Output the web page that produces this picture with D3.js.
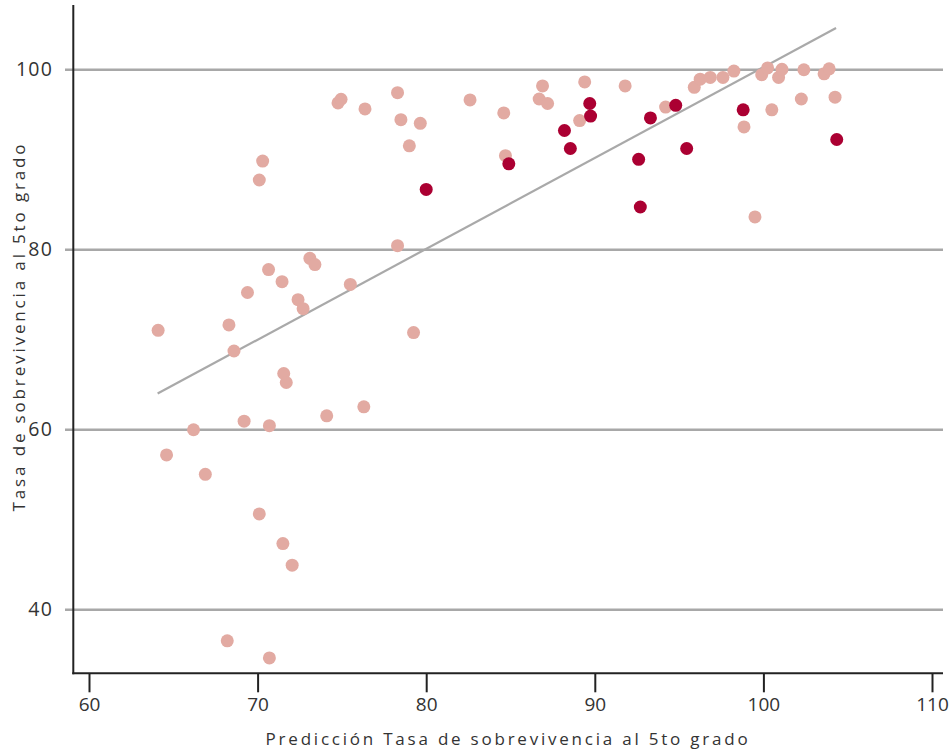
<!DOCTYPE html>
<html>
<head>
<meta charset="utf-8">
<script src="https://cdn.jsdelivr.net/npm/d3@7"></script>
<style>
  html, body { margin: 0; padding: 0; background: #fff; }
  svg { display: block; }
  text { font-family: "Open Sans", "Noto Sans", sans-serif; fill: #333; }
</style>
</head>
<body>
<svg id="chart" width="950" height="753"></svg>
<script>
// ---- data ----
const lightX = [79.0, 70.3, 70.1, 78.3, 73.1, 73.4, 70.65, 71.45, 75.5, 69.4, 72.4, 72.7, 64.1, 68.3, 68.6, 79.25, 71.55, 71.7, 76.3, 74.1, 69.2, 70.7, 66.2, 64.6, 66.9, 70.1, 71.5, 72.05, 68.2, 70.7, 78.3, 78.5, 79.65, 82.6, 84.6, 84.7, 86.9, 86.7, 87.2, 89.4, 91.8, 89.1, 94.2, 95.9, 96.25, 96.85, 97.6, 98.25, 98.85, 99.5, 99.9, 100.25, 100.9, 101.1, 100.5, 102.4, 102.25, 103.6, 103.9, 104.25, 74.77, 74.95, 76.37];
const lightY = [91.5, 89.8, 87.7, 80.4, 79.0, 78.3, 77.75, 76.4, 76.1, 75.2, 74.4, 73.4, 71.0, 71.6, 68.7, 70.75, 66.2, 65.2, 62.5, 61.5, 60.9, 60.4, 59.95, 57.15, 55.0, 50.6, 47.3, 44.9, 36.5, 34.6, 97.4, 94.4, 94.0, 96.6, 95.15, 90.4, 98.15, 96.7, 96.2, 98.6, 98.15, 94.3, 95.8, 98.0, 98.9, 99.1, 99.1, 99.8, 93.6, 83.6, 99.4, 100.15, 99.1, 100.0, 95.5, 99.95, 96.7, 99.5, 100.05, 96.9, 96.26, 96.67, 95.6];
const darkX = [80.0, 84.9, 89.7, 89.75, 88.2, 88.55, 92.6, 92.7, 93.3, 94.8, 95.45, 98.8, 104.35];
const darkY = [86.65, 89.5, 96.2, 94.8, 93.2, 91.2, 90.0, 84.7, 94.6, 96.0, 91.2, 95.5, 92.2];
// fitted line endpoints
const fitX = [64.07, 104.31];
const fitY = [63.97, 104.59];
const xTicks = [60, 70, 80, 90, 100, 110];
const yTicks = [40, 60, 80, 100];
const xTitle = "Predicción Tasa de sobrevivencia al 5to grado";
const yTitle = "Tasa de sobrevivencia al 5to grado";

// ---- chart ----
const svg = d3.select("#chart");
const x = d3.scaleLinear().domain([60, 110]).range([89, 932]);
const y = d3.scaleLinear().domain([40, 100]).range([609.3, 69.3]);
const axisLeftX = 73.3, axisBottomY = 673.3, gridLeft = 65, gridRight = 943;

// gridlines + y labels
const gy = svg.append("g").attr("transform", `translate(${gridLeft},0)`)
  .call(d3.axisLeft(y).tickValues(yTicks).tickSize(-(gridRight - gridLeft)).tickPadding(12).tickFormat(d3.format("d")));
gy.select(".domain").remove();
gy.selectAll(".tick line").attr("stroke", "#a8a8a8").attr("stroke-width", 2.4);
gy.selectAll(".tick text").attr("font-size", 19.5).attr("fill", "#333").style("letter-spacing", "1.2px");

// x axis
const gx = svg.append("g").attr("transform", `translate(0,${axisBottomY})`)
  .call(d3.axisBottom(x).tickValues(xTicks).tickSize(19).tickPadding(5).tickFormat(d3.format("d")));
gx.select(".domain").remove();
gx.selectAll(".tick line").attr("stroke", "#222").attr("stroke-width", 2);
gx.selectAll(".tick text").attr("font-size", 19).attr("fill", "#333");

// axis lines
svg.append("line").attr("x1", axisLeftX).attr("x2", axisLeftX).attr("y1", 5).attr("y2", axisBottomY + 1)
  .attr("stroke", "#222").attr("stroke-width", 2);
svg.append("line").attr("x1", axisLeftX - 1).attr("x2", gridRight).attr("y1", axisBottomY).attr("y2", axisBottomY)
  .attr("stroke", "#222").attr("stroke-width", 2);

// fitted line
svg.append("line")
  .attr("x1", x(fitX[0])).attr("y1", y(fitY[0]))
  .attr("x2", x(fitX[1])).attr("y2", y(fitY[1]))
  .attr("stroke", "#a9a9a9").attr("stroke-width", 2.2);

// points
const lightData = lightX.map((v, i) => ({ x: v, y: lightY[i] }));
const darkData = darkX.map((v, i) => ({ x: v, y: darkY[i] }));
svg.append("g").selectAll("circle").data(lightData).join("circle")
  .attr("cx", d => x(d.x)).attr("cy", d => y(d.y)).attr("r", 6.5).attr("fill", "#e2aaa2");
svg.append("g").selectAll("circle").data(darkData).join("circle")
  .attr("cx", d => x(d.x)).attr("cy", d => y(d.y)).attr("r", 6.5).attr("fill", "#ab0032");

// titles
function fitWidth(sel, target) {
  const n = sel.text().length;
  const len = sel.node().getComputedTextLength();
  sel.style("letter-spacing", ((target - len) / (n - 1)) + "px");
}
const xt = svg.append("text").attr("x", 508).attr("y", 745).attr("text-anchor", "middle")
  .attr("font-size", 17).attr("fill", "#444").text(xTitle);
fitWidth(xt, 482);
const yt = svg.append("text").attr("transform", "translate(25,326.5) rotate(-90)").attr("text-anchor", "middle")
  .attr("font-size", 17).attr("fill", "#444").text(yTitle);
fitWidth(yt, 367);
</script>
</body>
</html>
